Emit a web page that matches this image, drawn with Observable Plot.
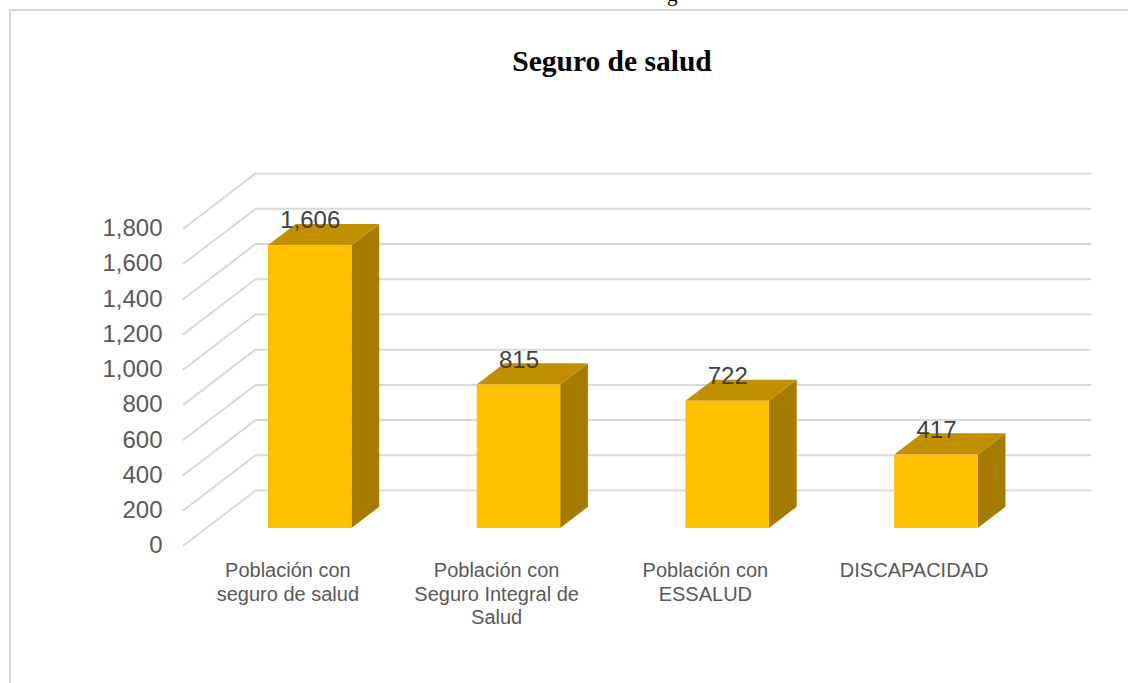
<!DOCTYPE html>
<html>
<head>
<meta charset="utf-8">
<script src="https://cdn.jsdelivr.net/npm/d3@7"></script>
<script src="https://cdn.jsdelivr.net/npm/@observablehq/plot@0.6"></script>
<style>
html,body{margin:0;padding:0;background:#fff;overflow:hidden}
#wrap{position:relative;width:1128px;height:683px;overflow:hidden}
#frame{position:absolute;left:9px;top:9px;width:1130px;height:700px;border:2px solid #d9d9d9;box-sizing:border-box}
#title{position:absolute;left:0;top:44px;width:1224px;text-align:center;font:bold 29.5px "Liberation Serif",serif;color:#000;line-height:34px}
#cut{position:absolute;left:667px;top:-16px;font:21px/21px "Liberation Serif",serif;color:#000}
#chart{position:absolute;left:0;top:0}
</style>
</head>
<body>
<div id="wrap">
<div id="cut">g</div>
<div id="frame"></div>
<div id="title">Seguro de salud</div>
<div id="chart"></div>
</div>
<script>
const categories = ["Población con\nseguro de salud", "Población con\nSeguro Integral de\nSalud", "Población con\nESSALUD", "DISCAPACIDAD"];
const values = [1606, 815, 722, 417];
const valueLabels = ["1,606", "815", "722", "417"];
const yTicks = [0, 200, 400, 600, 800, 1000, 1200, 1400, 1600, 1800];

// oblique projection of the 3D box, in data units
const depthX = 0.345, depthY = 312;
const halfBar = 0.2, dFront = 0.31, dBack = 0.695;
const px = (i, d) => i + d * depthX;
const py = (v, d) => v + d * depthY;
const idx = values.map((_, i) => i);

const gridLines = yTicks.flatMap(t => [
  {t, x: px(-0.5, 0), y: py(t, 0)},
  {t, x: px(-0.5, 1), y: py(t, 1)},
  {t, x: px(3.5, 1), y: py(t, 1)}
]);
const frontFaces = idx.map(i => ({x1: px(i - halfBar, dFront), x2: px(i + halfBar, dFront), y1: py(0, dFront), y2: py(values[i], dFront)}));
const sideFaces = idx.flatMap(i => [
  {i, x: px(i + halfBar, dFront), y1: py(0, dFront), y2: py(values[i], dFront)},
  {i, x: px(i + halfBar, dBack), y1: py(0, dBack), y2: py(values[i], dBack)}
]);
const topFaces = idx.flatMap(i => [
  {i, y: py(values[i], dFront), x1: px(i - halfBar, dFront), x2: px(i + halfBar, dFront)},
  {i, y: py(values[i], dBack), x1: px(i - halfBar, dBack), x2: px(i + halfBar, dBack)}
]);
const labels = idx.map(i => ({x: px(i, dFront), y: py(values[i], dFront), text: valueLabels[i]}));

const font = "Liberation Sans, sans-serif";
const plot = Plot.plot({
  width: 1128, height: 683,
  marginLeft: 183, marginRight: 110, marginTop: 228, marginBottom: 138,
  style: {background: "transparent", fontFamily: font, overflow: "visible"},
  x: {domain: [-0.5, 3.5], range: [183, 1018], axis: null},
  y: {domain: [0, 1800], range: [545, 228], axis: null},
  marks: [
    Plot.line(gridLines, {x: "x", y: "y", z: "t", stroke: "#d9d9d9", strokeWidth: 2}),
    Plot.areaY(sideFaces, {x: "x", y1: "y1", y2: "y2", z: "i", fill: "#a67c00", curve: "linear"}),
    Plot.areaX(topFaces, {y: "y", x1: "x1", x2: "x2", z: "i", fill: "#c09000", curve: "linear"}),
    Plot.rect(frontFaces, {x1: "x1", x2: "x2", y1: "y1", y2: "y2", fill: "#ffc000"}),
    Plot.text(labels, {x: "x", y: "y", text: "text", dy: -25, fontSize: 24, fill: "#404040"}),
    Plot.axisY({ticks: yTicks, tickFormat: d3.format(","), tickSize: 0, tickPadding: 21, fontSize: 24, fill: "#595959", label: null, anchor: "left"}),
    Plot.axisX({ticks: idx, tickFormat: i => categories[i], tickSize: 0, tickPadding: 15, fontSize: 20, lineHeight: 1.18, fill: "#595959", label: null, anchor: "bottom"})
  ]
});
document.getElementById("chart").appendChild(plot);
</script>
</body>
</html>
